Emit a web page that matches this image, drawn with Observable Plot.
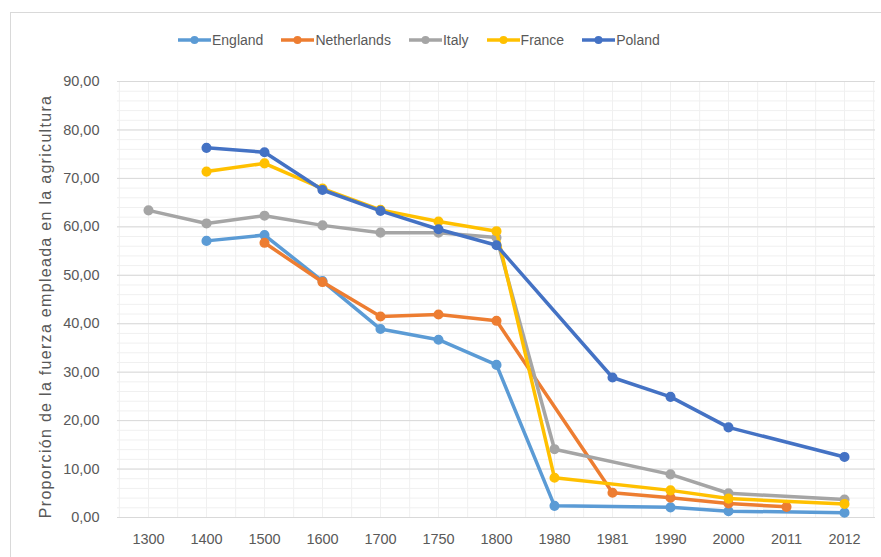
<!DOCTYPE html>
<html><head><meta charset="utf-8">
<script src="https://cdn.jsdelivr.net/npm/d3@7"></script>
<script src="https://cdn.jsdelivr.net/npm/@observablehq/plot@0.6"></script>
<style>
body{margin:0;background:#fff;font-family:"Liberation Sans",sans-serif;}
#wrap{position:relative;width:881px;height:557px;overflow:hidden;background:#fff;}
#frame{position:absolute;left:10px;top:12px;width:900px;height:600px;border:1px solid #d9d9d9;box-sizing:border-box;}
#legend{position:absolute;left:177px;top:31px;display:flex;gap:17px;font-size:14px;color:#595959;align-items:center;height:18px;}
.item{display:flex;align-items:center;}
.item svg{display:block;}
#chart{position:absolute;left:0;top:0;}
</style></head>
<body>
<div id="wrap"><div id="frame"></div><div id="chart"></div><div id="legend"></div></div>
<script>
const years = ["1300","1400","1500","1600","1700","1750","1800","1980","1981","1990","2000","2011","2012"];
const countries = ["England","Netherlands","Italy","France","Poland"];
const colors = ["#5B9BD5","#ED7D31","#A5A5A5","#FFC000","#4472C4"];
const england     = [null, 57.1, 58.3, 48.8, 38.9, 36.7, 31.5, 2.4, null, 2.1, 1.3, null, 1.0];
const netherlands = [null, null, 56.7, 48.6, 41.5, 41.9, 40.6, null, 5.1, 4.1, 2.9, 2.2, null];
const italy       = [63.4, 60.7, 62.3, 60.3, 58.8, 58.8, 57.8, 14.1, null, 8.9, 5.0, null, 3.7];
const france      = [null, 71.4, 73.1, 67.9, 63.5, 61.1, 59.1, 8.2, null, 5.6, 3.9, null, 2.8];
const poland      = [null, 76.3, 75.4, 67.6, 63.3, 59.5, 56.2, null, 28.9, 24.9, 18.6, null, 12.5];
const series = [england, netherlands, italy, france, poland];
const yMajor = d3.range(0, 91, 10);
const yMinor = d3.range(0, 91, 2);
const yTitle = "Proporción de la fuerza empleada en la agricultura";

const data = [];
series.forEach((vals, i) => vals.forEach((v, j) => {
  if (v != null) data.push({country: countries[i], year: years[j], value: v});
}));

const W = 881, H = 557, ML = 117, MR = 6, MT = 81, MB = 40;
const step = (W - ML - MR) / years.length;
const fmt = d => d.toFixed(2).replace(".", ",");

const seriesMarks = countries.flatMap(c => {
  const d = data.filter(r => r.country === c);
  return [
    Plot.line(d, {x: "year", y: "value", stroke: "country", strokeWidth: 3.5, strokeLinejoin: "round", strokeLinecap: "round"}),
    Plot.dot(d, {x: "year", y: "value", fill: "country", stroke: "country", r: 4.3})
  ];
});

const chart = Plot.plot({
  width: W, height: H,
  marginLeft: ML, marginRight: MR, marginTop: MT, marginBottom: MB,
  style: {fontFamily: "Liberation Sans, sans-serif", fontSize: "14.5px", color: "#595959", background: "transparent"},
  x: {type: "point", domain: years, padding: 0.5},
  y: {domain: [0, 90]},
  color: {domain: countries, range: colors},
  marks: [
    Plot.ruleY(yMinor, {stroke: "#f0f0f0", strokeWidth: 1}),
    Plot.ruleX(years, {stroke: "#f0f0f0", strokeWidth: 1}),
    Plot.ruleX(years, {stroke: "#f0f0f0", strokeWidth: 1, dx: step / 2}),
    Plot.ruleX([years[0]], {stroke: "#f0f0f0", strokeWidth: 1, dx: -step / 2}),
    Plot.ruleY(yMajor, {stroke: "#d9d9d9", strokeWidth: 1}),
    Plot.axisY({ticks: yMajor, tickFormat: fmt, tickSize: 0, tickPadding: 18, fill: "#595959", fontSize: 14.5, label: null}),
    Plot.axisX({tickSize: 0, tickPadding: 16, fill: "#595959", fontSize: 14.5, label: null}),
    Plot.text([yTitle], {frameAnchor: "left", textAnchor: "middle", rotate: -90, dx: -72, dy: 7, fill: "#595959", fontSize: 16, text: d => d}),
    ...seriesMarks
  ]
});
chart.querySelectorAll("text").forEach(t => { if (t.textContent === yTitle) t.setAttribute("letter-spacing", "1.3"); });
document.getElementById("chart").appendChild(chart);

const lg = document.getElementById("legend");
countries.forEach((c, i) => {
  const it = document.createElement("div");
  it.className = "item";
  it.innerHTML = `<svg width="35" height="12"><line x1="1" y1="6" x2="34" y2="6" stroke="${colors[i]}" stroke-width="3.5"/><circle cx="17.5" cy="6" r="4" fill="${colors[i]}"/></svg><span>${c}</span>`;
  lg.appendChild(it);
});
</script>
</body></html>
